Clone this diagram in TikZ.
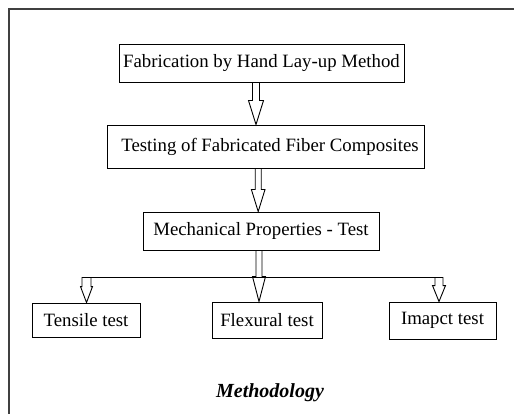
\documentclass[tikz,border=0pt]{standalone}
\usepackage{fontspec}
\setmainfont{Liberation Serif}
\usetikzlibrary{calc}
\tikzset{
  box/.style={draw=black, line width=0.9pt, inner sep=0pt, font=\fontsize{18.8}{22}\selectfont, text=black},
  hollow/.style n args={3}{line width=0.9pt, to path={let \p1=(\tikztostart), \p2=(\tikztotarget) in
    (\x1-#1,\y1) -- (\x1-#1,\y2+#3) -- (\x1-#2,\y2+#3) -- (\x1,\y2) -- (\x1+#2,\y2+#3) -- (\x1+#1,\y2+#3) -- (\x1+#1,\y1)}},
  frame/.style={draw=black!75, line width=1.3pt}
}
\begin{document}
\begin{tikzpicture}[x=1pt,y=-1pt]
\useasboundingbox (0,0) rectangle (514,414);
\draw[frame] (9,414) -- (9,9) -- (514,9);
\node[box, minimum width=285pt, minimum height=38pt] (b1) at (261.5,63) {Fabrication by Hand Lay-up Method};
\node[box, minimum width=317pt, minimum height=43pt] (b2) at (265.5,146.5) {\hspace*{9pt}Testing of Fabricated Fiber Composites};
\node[box, minimum width=236pt, minimum height=38pt] (b3) at (261,231) {Mechanical Properties - Test};
\node[box, minimum width=108pt, minimum height=34pt] (t1) at (86,320) {Tensile test};
\node[box, minimum width=110pt, minimum height=36pt] (t2) at (267,320) {Flexural test};
\node[box, minimum width=107pt, minimum height=37pt] (t3) at (442.5,320.5) {Imapct test};
\node[font=\fontsize{20}{24}\selectfont\bfseries\itshape, text=black] (cap) at (270,393) {Methodology};
\coordinate (fl) at (86.5,277);
\coordinate (fr) at (439,277);
\draw[hollow={3.5pt}{7.5pt}{24pt}] ([xshift=-5.5pt]b1.south) to (b2.north);
\draw[hollow={3pt}{6.8pt}{22pt}] ([xshift=-7.3pt]b2.south) to (b3.north);
\draw[hollow={3pt}{6.5pt}{25pt}] ([xshift=-2pt]b3.south) to (t2.north);
\draw[line width=0.9pt] ([xshift=-4.5pt]fl) -- ([xshift=4pt]fr);
\draw[hollow={4.5pt}{6pt}{16pt}] (fl) to (t1.north);
\draw[hollow={4pt}{6.5pt}{16pt}] (fr) to (t3.north);
\end{tikzpicture}
\end{document}
